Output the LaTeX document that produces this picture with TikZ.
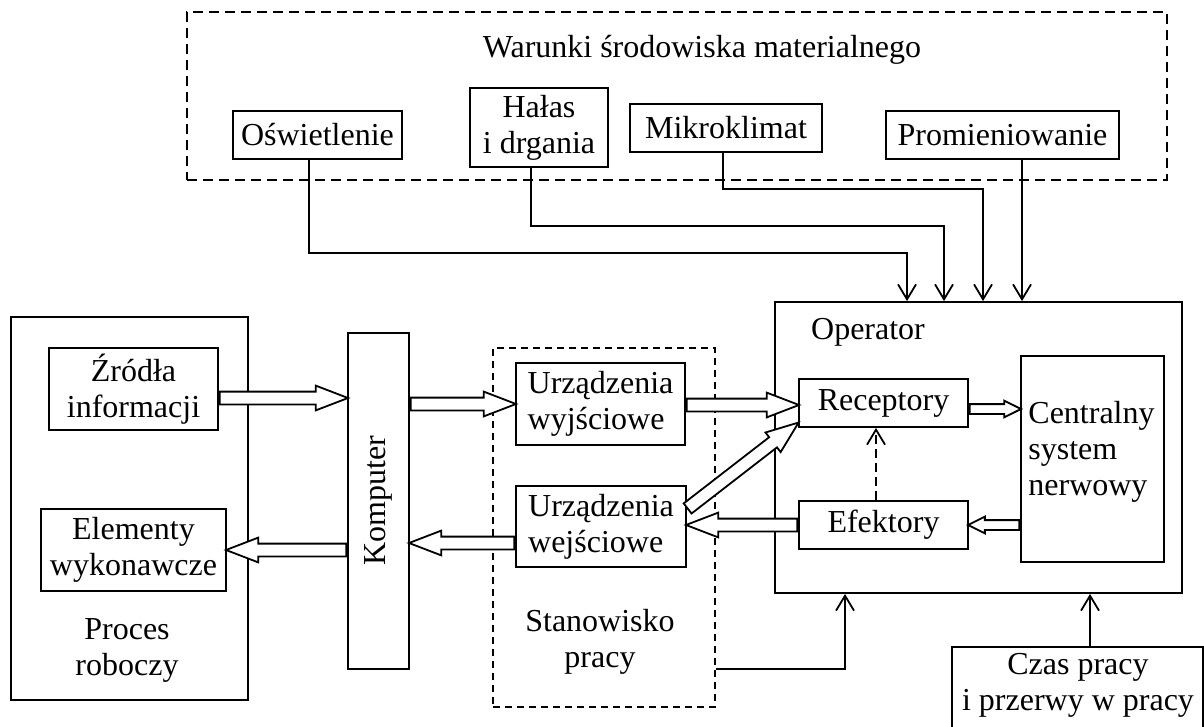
\documentclass[tikz,border=0pt]{standalone}
\usepackage{fontspec}
\setmainfont{Liberation Serif}
\usetikzlibrary{arrows.meta,positioning,calc,shapes.arrows}
\tikzset{
	>={Straight Barb[length=7.5pt,width=9pt]},
	dedge/.style={->, line width=0.9pt},
	hollow/.style={single arrow, draw=black, fill=white, line width=0.9pt, inner xsep=0pt, inner ysep=2.75pt,
		minimum width=11.5pt, single arrow head extend=3pt, single arrow tip angle=42},
	hollowsmall/.style={hollow, inner ysep=2pt, minimum width=7.5pt, single arrow head extend=1.75pt, single arrow tip angle=53},
}
\tikzstyle{nrect} = [rectangle, draw=black, line width=0.9pt, inner sep=0pt, align=center]
\tikzstyle{dbox} = [nrect, dash pattern=on 5pt off 3pt]
\tikzstyle{plain} = [inner sep=0pt, align=center]

% hollow block arrow from one point to another
\newcommand{\blockarrow}[3][hollow]{%
	\path let \p1=(#2), \p2=(#3), \n1={atan2(\y2-\y1,\x2-\x1)}, \n2={veclen(\x2-\x1,\y2-\y1)} in
	node[#1, rotate=\n1, minimum height=\n2, anchor=tail] at (\p1) {};}

\begin{document}
\begin{tikzpicture}[x=0.5pt,y=-0.5pt,font=\fontsize{16}{18}\selectfont]
	\useasboundingbox (0,0) rectangle (1204,727);
	
	% environment
	\node[dbox, minimum width=490pt, minimum height=84pt] (env) at (677,96) {};
	\node[plain] (envt) at (702,50) {Warunki środowiska materialnego};
	\node[nrect, minimum width=84.5pt, minimum height=24pt] (osw) at (317.5,135) {Oświetlenie};
	\node[nrect, minimum width=69pt, minimum height=39.5pt] (halas) at (539,127.5) {Hałas\\i drgania};
	\node[nrect, minimum width=96pt, minimum height=24pt] (mikro) at (726,128) {Mikroklimat};
	\node[nrect, minimum width=116.5pt, minimum height=24pt] (prom) at (1002.5,135) {Promieniowanie};
	
	% work process
	\node[nrect, minimum width=118.5pt, minimum height=191.5pt] (proc) at (129.5,508.5) {};
	\node[nrect, minimum width=84.5pt, minimum height=41pt] (zrodla) at (133.5,389) {Źródła\\informacji};
	\node[nrect, minimum width=92.5pt, minimum height=41pt] (elem) at (133.5,550) {Elementy\\wykonawcze};
	\node[plain] (proct) at (127,650) {Proces\\roboczy};
	\node[nrect, minimum width=30.5pt, minimum height=168pt] (komp) at (378.5,501) {\rotatebox{90}{Komputer}};
	
	% workplace
	\node[nrect, dash pattern=on 3.5pt off 2.5pt, minimum width=111pt, minimum height=179.5pt] (stan) at (604,527.5) {};
	\node[plain] (stant) at (600,641.5) {Stanowisko\\pracy};
	\node[nrect, align=left, minimum width=84.5pt, minimum height=41pt] (wyj) at (600.5,404) {Urządzenia\\wyjściowe};
	\node[nrect, align=left, minimum width=85pt, minimum height=40.5pt] (wej) at (601,526.5) {Urządzenia\\wejściowe};
	
	% operator
	\node[nrect, minimum width=203.5pt, minimum height=145.5pt] (oper) at (978.5,447.5) {};
	\node[plain] (opert) at (868,332) {Operator};
	\node[nrect, minimum width=84.5pt, minimum height=24pt] (rec) at (883.5,403) {Receptory};
	\node[nrect, minimum width=84.5pt, minimum height=24pt] (efe) at (883.5,525) {Efektory};
	\node[nrect, minimum width=71.5pt, minimum height=103pt] (cns) at (1092.5,459) {};
	\node[plain, align=left, anchor=north west] (cnst) at (1028,401) {Centralny\\system\\nerwowy};
	
	\node[nrect, minimum width=125.5pt, minimum height=46.5pt] (czas) at (1077.5,693.5) {};
	\node[plain] (czast) at (1078,685.5) {Czas pracy\\i przerwy w pracy};
	
	% influences on the operator
	\coordinate (in1) at ([xshift=-35.75pt]oper.north);
	\coordinate (in2) at ([xshift=-17.25pt]oper.north);
	\coordinate (in3) at ([xshift=2.25pt]oper.north);
	\coordinate (in4) at ([xshift=21.75pt]oper.north);
	\draw[dedge] ([xshift=-4.25pt]osw.south) |- (in1 |- 0,253) -- (in1);
	\draw[dedge] ([xshift=-4pt]halas.south) |- (in2 |- 0,226) -- (in2);
	\draw[dedge] ([xshift=-1.5pt]mikro.south) |- (in3 |- 0,189) -- (in3);
	\draw[dedge] ([xshift=9.75pt]prom.south) -- (in4);
	\draw[dedge] (stan.east |- 0,669) -| ([xshift=-66.75pt]oper.south);
	\draw[dedge] ([xshift=6.25pt]czas.north) -- ([xshift=6.25pt]czas.north |- oper.south);
	\draw[dedge, dash pattern=on 4.5pt off 2.5pt] ([xshift=-3.75pt]efe.north) -- ([xshift=-3.75pt]rec.south);
	
	% information flow
	\blockarrow{zrodla.east |- 0,398}{komp.west |- 0,398}
	\blockarrow{komp.east |- wyj.west}{wyj.west}
	\blockarrow{wej.west |- 0,543}{komp.east |- 0,543}
	\blockarrow{komp.west |- elem.east}{elem.east}
	\blockarrow{wyj.east |- 0,405}{rec.west |- 0,405}
	\blockarrow{[yshift=8.75pt]wej.east}{[yshift=2.5pt]rec.south west}
	\blockarrow{efe.west}{efe.west -| wej.east}
	\blockarrow[hollowsmall]{rec.east |- 0,409}{cns.west |- 0,409}
	\blockarrow[hollowsmall]{cns.west |- efe.east}{efe.east}
\end{tikzpicture}
\end{document}
